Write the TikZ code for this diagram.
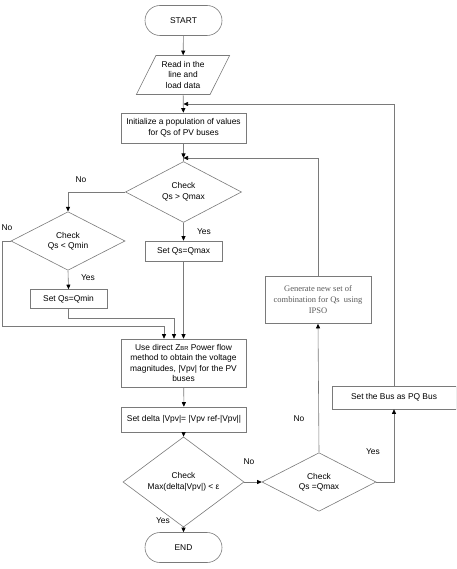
\documentclass[tikz,border=0pt]{standalone}
\usepackage{fontspec}
\setmainfont{Liberation Sans}
\newfontfamily\genfont{Liberation Serif}
\usepackage{tikz}
\usetikzlibrary{positioning,shapes.geometric,arrows.meta}
\definecolor{linegray}{HTML}{7A7A7A}

\begin{document}
\begin{tikzpicture}[
        x=1pt, y=-1pt,
        line width=0.6pt,
        every node/.style={font=\fontsize{8.4}{10.5}\selectfont, text=black},
        terminal/.style={
            draw=linegray,
            rounded corners=15pt,
            minimum width=77pt,
            minimum height=30pt
        },
        io/.style={
            draw=linegray,
            trapezium,
            trapezium left angle=62,
            trapezium right angle=118,
            trapezium stretches=true,
            minimum width=94pt,
            minimum height=39pt,
            align=center
        },
        process/.style={
            draw=linegray,
            rectangle,
            align=center,
            inner sep=1pt
        },
        decision/.style={
            draw=linegray,
            diamond,
            align=center,
            inner sep=0pt
        },
        flow/.style={
            linegray,
            -{Triangle[length=4.5pt,width=4pt,black]}
        },
        plain/.style={linegray},
        lbl/.style={inner sep=0pt}
    ]

    \clip (0,0) rectangle (456,569);

    % main column
    \node[terminal] (start) at (183.5,20.5) {START};
    \node[io] (read) at (183,75) {Read in the\\line and\\load data};
    \node[process, minimum width=125pt, minimum height=30pt] (init) at (183.5,128)
        {Initialize a population of values\\for Qs of PV buses};
    \coordinate (join) at (183.5,158);
    \node[decision, minimum width=116pt, minimum height=58pt] (chkmax) at (183.5,192)
        {Check\\Qs {>} Qmax};
    \node[process, minimum width=77pt, minimum height=20pt] (setmax) at (183.5,251)
        {Set Qs=Qmax};
    \node[decision, minimum width=114pt, minimum height=57pt] (chkmin) at (68,241)
        {Check\\Qs {<} Qmin};
    \node[process, minimum width=77pt, minimum height=19pt] (setmin) at (68.5,299)
        {Set Qs=Qmin};
    \node[process, minimum width=125pt, minimum height=48pt] (zbr) at (183.5,363)
        {Use direct Z{\fontsize{5.8}{6}\selectfont BR} Power flow\\method to obtain the voltage\\magnitudes, |Vpv| for the PV\\buses};
    \node[process, minimum width=125pt, minimum height=25pt] (delta) at (184,419.5)
        {Set delta |Vpv|= |Vpv ref-|Vpv||};
    \node[decision, minimum width=121pt, minimum height=62pt] (chkeps) at (183.5,482)
        {Check\\Max(delta|Vpv|) {<} ε};
    \node[terminal] (finish) at (183.5,547.5) {END};

    % right branch
    \node[decision, minimum width=114pt, minimum height=58pt] (chkq) at (319,482)
        {Check\\Qs =Qmax};
    \node[process, minimum width=106pt, minimum height=47pt,
        font=\genfont\fontsize{8.5}{11}\selectfont, text=black!65] (gen) at (318,300)
        {Generate new set of\\combination for Qs\ \ using\\IPSO};
    \node[process, minimum width=124pt, minimum height=23pt] (pq) at (394,397.5)
        {Set the Bus as PQ Bus};

    % entry points on top of the power flow box
    \coordinate (in1) at ([xshift=-19.5pt]zbr.north);
    \coordinate (in2) at ([xshift=-9.5pt]zbr.north);
    \coordinate (reentry) at (183.5,104);

    \draw[flow] (start) -- (read);
    \draw[flow] (read) -- (init);
    \draw[flow] (init) -- (join);
    \draw[plain] (join) -- (chkmax.north);
    \draw[flow] (gen.north) |- (join);
    \draw[flow] (pq.north) |- (reentry);

    % Qs limits check
    \draw[flow] (chkmax.west) -| (chkmin.north);
    \draw[flow] (chkmax.south) -- (setmax.north);
    \draw[flow] (setmax.south) -- (zbr.north);
    \draw[flow] (chkmin.south) -- (setmin.north);
    \draw[flow] (setmin.south) |- ([yshift=20pt]in2) -- (in2);
    \draw[flow] (chkmin.west) -- ++(-8,0) |- ([yshift=12pt]in1) -- (in1);

    \draw[flow] (zbr) -- (delta);
    \draw[flow] (delta) -- (chkeps.north);
    \draw[flow] (chkeps.south) -- (finish);
    \draw[flow] (chkeps.east) -- (chkq.west);
    \draw[flow] (chkq.north) -- (gen.south);
    \draw[flow] (chkq.east) -| (pq.south);

    % branch labels
    \node[lbl] at (81,180) {No};
    \node[lbl] at (7,228) {No};
    \node[lbl] at (204,232) {Yes};
    \node[lbl] at (88,278) {Yes};
    \node[lbl] at (163,521) {Yes};
    \node[lbl] at (249,462) {No};
    \node[lbl] at (299,419) {No};
    \node[lbl] at (373,452) {Yes};

\end{tikzpicture}
\end{document}
